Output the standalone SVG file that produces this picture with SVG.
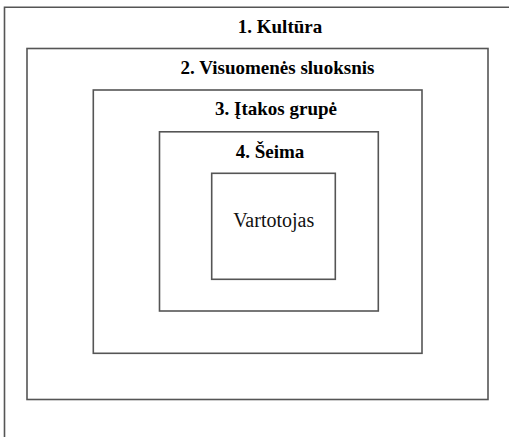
<svg xmlns="http://www.w3.org/2000/svg" width="509" height="437" viewBox="0 0 509 437">
  <style>
    .frame { fill: none; stroke: #555; stroke-width: 1.6; }
    .title { font-weight: bold; font-size: 19px; fill: #000; text-anchor: middle; }
    .core { font-size: 20px; fill: #111; text-anchor: middle; }
  </style>
  <rect width="509" height="437" fill="#fff"/>
  <g font-family="'Liberation Serif', 'DejaVu Serif', serif">
    <!-- outermost layer: runs past the right and bottom edges -->
    <g id="kultura">
      <path class="frame" d="M4.5,437 V7.2 H509"/>
      <text class="title" x="280" y="32.7">1. Kultūra</text>
    </g>
    <g id="visuomenes-sluoksnis">
      <rect class="frame" x="27" y="48.5" width="461" height="351"/>
      <text class="title" x="277.5" y="74">2. Visuomenės sluoksnis</text>
    </g>
    <g id="itakos-grupe">
      <rect class="frame" x="93.3" y="90" width="328.7" height="263.3"/>
      <text class="title" x="276" y="114.5">3. Įtakos grupė</text>
    </g>
    <g id="seima">
      <rect class="frame" x="159.5" y="131.8" width="218.8" height="179.2"/>
      <text class="title" x="270" y="157.7">4. Šeima</text>
    </g>
    <g id="vartotojas">
      <rect class="frame" x="211.7" y="173.3" width="123.6" height="106"/>
      <text class="core" x="273.7" y="226.7">Vartotojas</text>
    </g>
    <g id="connectors"/>
  </g>
</svg>
